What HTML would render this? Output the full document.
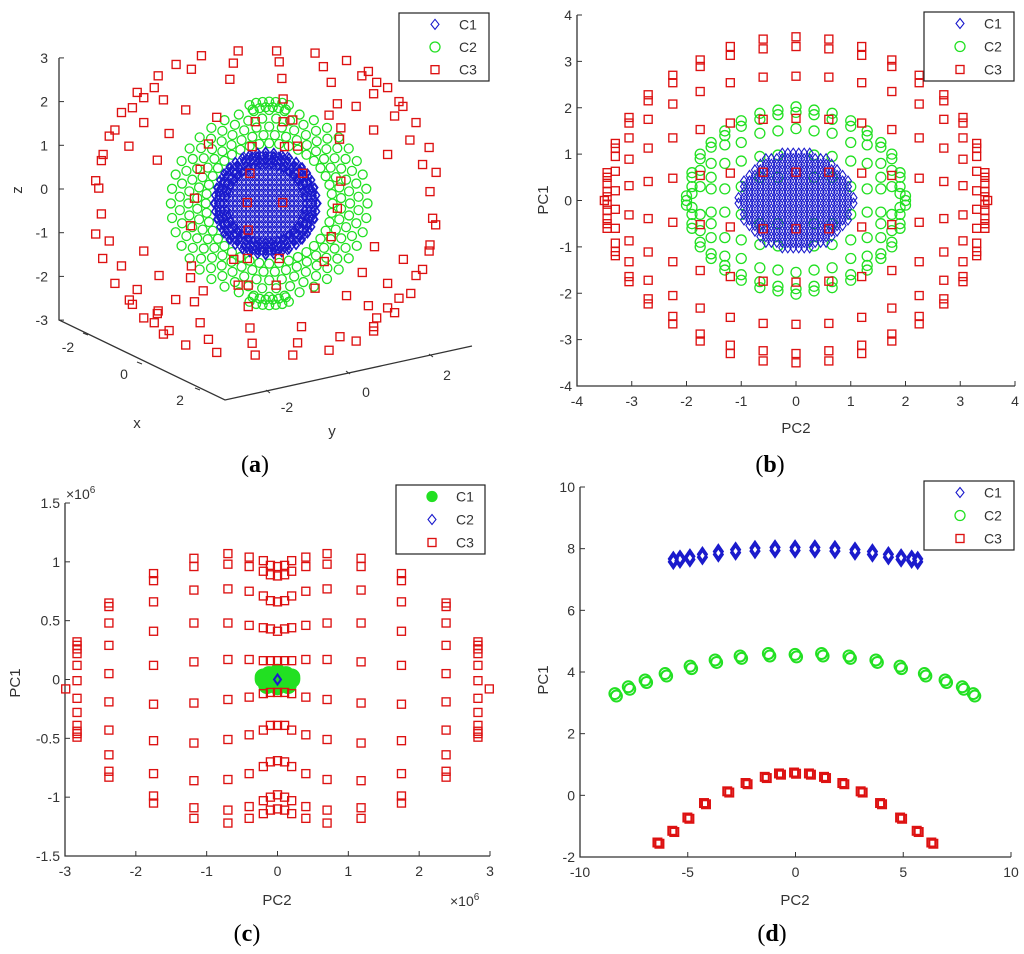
<!DOCTYPE html>
<html><head><meta charset="utf-8"><style>
html,body{margin:0;padding:0;background:#fff;}
svg{display:block;font-family:"Liberation Sans",sans-serif;}
.tk{font-size:14px;fill:#333;}
.at{font-size:15px;fill:#333;}
.pl{font-family:"Liberation Serif",serif;font-size:24px;fill:#000;}
</style></head><body>
<svg id="fig" width="1024" height="954" viewBox="0 0 1024 954" xmlns="http://www.w3.org/2000/svg">
<g id="pa"></g>
<g id="pb"></g>
<g id="pc"></g>
<g id="pd"></g>
<text class="pl" x="255" y="472" text-anchor="middle">(<tspan font-weight="bold">a</tspan>)</text>
<text class="pl" x="770" y="472" text-anchor="middle">(<tspan font-weight="bold">b</tspan>)</text>
<text class="pl" x="247" y="941" text-anchor="middle">(<tspan font-weight="bold">c</tspan>)</text>
<text class="pl" x="772" y="941" text-anchor="middle">(<tspan font-weight="bold">d</tspan>)</text>
</svg>
<script>
const NS='http://www.w3.org/2000/svg';
const BLUE='#1a1acc',GREEN='#22e022',RED='#dd1111';

// ---------- Panel A data (projected u = horizontal, v = z) ----------
const aRedU=[-1.50,-0.66,0.22,1.10,1.82,-2.08,-0.77,0.28,1.29,2.32,-2.49,-1.73,-0.85,0.34,1.47,2.17,2.51,2.76,-2.58,-2.97,-2.82,-2.37,0.37,2.44,1.61,2.04,3.02,3.11,-3.33,-3.08,-1.86,-1.15,-0.27,0.37,0.59,1.42,2.92,3.41,-3.48,-3.61,-2.82,-2.24,1.69,2.44,3.27,-3.16,-1.34,-0.34,0.40,0.70,1.66,3.71,-3.75,-3.79,-2.51,2.76,3.56,3.87,-1.53,-0.39,0.82,-3.92,-3.85,1.69,3.73,-1.66,-0.45,0.36,1.61,-3.79,-1.75,-0.43,3.79,3.86,-3.92,1.47,-3.61,-2.82,2.46,3.73,3.71,-3.76,-0.76,-0.45,0.28,1.31,3.12,-3.33,-1.73,2.18,3.56,3.41,-3.48,-2.47,-1.75,-0.66,-0.43,0.21,1.10,2.76,-2.97,-1.46,1.82,-3.15,-3.08,-2.09,-1.66,3.02,3.29,-0.43,2.32,2.76,2.92,-2.49,-2.51,-2.82,-2.58,-1.53,2.51,2.44,2.44,-0.39,0.79,-2.24,-2.37,-1.86,-1.34,-0.34,0.70,1.67,2.04,-1.15,-0.27,0.59,1.42];
const aRedV=[3.05,3.16,3.16,3.11,2.94,2.85,2.88,2.91,2.80,2.69,2.59,2.74,2.51,2.53,2.44,2.59,2.44,2.32,2.32,2.21,2.09,2.04,2.06,2.18,1.95,1.89,2.00,1.89,1.75,1.86,1.81,1.64,1.54,1.54,1.58,1.69,1.67,1.52,1.35,1.21,1.52,1.27,1.40,1.35,1.12,0.98,1.03,0.97,0.97,0.98,1.14,0.95,0.79,0.65,0.66,0.79,0.56,0.38,0.45,0.36,0.36,0.19,0.02,0.18,-0.06,-0.21,-0.31,-0.31,-0.44,-0.57,-0.84,-0.94,-0.67,-0.82,-1.03,-1.09,-1.19,-1.42,-1.32,-1.28,-1.42,-1.59,-1.61,-1.59,-1.59,-1.66,-1.61,-1.76,-1.76,-1.91,-1.84,-1.98,-2.16,-1.98,-2.03,-2.20,-2.20,-2.20,-2.27,-2.16,-2.30,-2.33,-2.44,-2.54,-2.64,-2.53,-2.58,-2.50,-2.39,-2.69,-2.67,-2.72,-2.83,-2.79,-2.85,-2.95,-3.06,-3.06,-2.95,-3.15,-3.25,-3.18,-3.15,-3.24,-3.32,-3.57,-3.44,-3.53,-3.52,-3.38,-3.48,-3.74,-3.80,-3.80,-3.69];
const aGreenRings=[1.45,1.65,1.85,2.05,2.25];
const aGreenAngles=[0,9,18,27,36,45,54,63,72,81,90,99,108,117,126,135,144,153,162,171,180,189,198,207,216,225,234,243,252,261,270,279,288,297,306,315,324,333,342,351];
const aGreenPoleU=[-0.45,-0.3,-0.15,0,0.15,0.3,0.45,-0.38,-0.22,-0.08,0.08,0.22,0.38];
const aGreenPoleDV=[0.05,0.1,0.12,0.13,0.12,0.1,0.05,-0.05,-0.02,0,0,-0.02,-0.05];
const aGreenCenter=[0.05,-0.33];
const aBlueCenter=[-0.03,-0.33];
const aBlueR=1.2;
const aBlueGridU=[-1.2,-1.1,-1.0,-0.9,-0.8,-0.7,-0.6,-0.5,-0.4,-0.3,-0.2,-0.1,0,0.1,0.2,0.3,0.4,0.5,0.6,0.7,0.8,0.9,1.0,1.1,1.2];
const aBlueGridV=[-1.2,-1.08,-0.96,-0.84,-0.72,-0.6,-0.48,-0.36,-0.24,-0.12,0,0.12,0.24,0.36,0.48,0.6,0.72,0.84,0.96,1.08,1.2];
const aBlueEdgeAngles=aGreenAngles;
const aZTicks=[3,2,1,0,-1,-2,-3];

// ---------- Panel B data ----------
const bRedColX=[0,0.6,1.2,1.75,2.25,2.7,3.05,3.3,3.45];
const bRedColY=[
 [3.53,3.32,2.68,1.77,0.61,-0.61,-1.76,-2.67,-3.30,-3.50],
 [3.48,3.27,2.66,1.75,0.61,-0.61,-1.74,-2.65,-3.24,-3.46],
 [3.32,3.13,2.54,1.67,0.59,-0.57,-1.64,-2.52,-3.12,-3.30],
 [3.03,2.89,2.35,1.53,0.54,-0.52,-1.51,-2.32,-2.88,-3.03],
 [2.70,2.54,2.08,1.35,0.48,-0.47,-1.32,-2.05,-2.50,-2.66],
 [2.28,2.15,1.75,1.13,0.41,-0.39,-1.11,-1.72,-2.12,-2.23],
 [1.79,1.67,1.35,0.89,0.32,-0.31,-0.87,-1.32,-1.64,-1.75],
 [1.23,1.13,0.95,0.63,0.21,-0.19,-0.60,-0.92,-1.10,-1.19],
 [0.60,0.50,0.37,0.19,0.08,-0.08,-0.21,-0.39,-0.50,-0.60]];
const bRedExtraX=[-3.5,3.5];
const bRedExtraY=[0,0];
const bGreenColX=[0,0.33,0.66,1.0,1.3,1.55,1.75,1.9,2.0];
const bGreenColY=[
 [2.02,1.9,1.55,-1.55,-1.9,-2.02],
 [1.95,1.85,1.5,0.98,0.5,-0.5,-0.98,-1.5,-1.85,-1.95],
 [1.88,1.75,1.45,0.95,0.5,-0.5,-0.95,-1.45,-1.75,-1.88],
 [1.72,1.6,1.25,0.85,0.3,-0.3,-0.85,-1.25,-1.6,-1.72],
 [1.5,1.4,1.2,0.8,0.25,-0.25,-0.8,-1.2,-1.4,-1.5],
 [1.25,1.15,0.8,0.5,0.25,-0.25,-0.5,-0.8,-1.15,-1.25],
 [1.0,0.9,0.65,0.3,-0.3,-0.65,-0.9,-1.0],
 [0.6,0.5,0.3,0.15,-0.15,-0.3,-0.5,-0.6],
 [0.1,0,-0.1]];
const bBlueGridX=[-1.05,-0.95,-0.85,-0.75,-0.65,-0.55,-0.45,-0.35,-0.25,-0.15,-0.05,0.05,0.15,0.25,0.35,0.45,0.55,0.65,0.75,0.85,0.95,1.05];
const bBlueGridY=[-1.02,-0.9,-0.78,-0.66,-0.54,-0.42,-0.3,-0.18,-0.06,0.06,0.18,0.3,0.42,0.54,0.66,0.78,0.9,1.02];
const bTicks=[-4,-3,-2,-1,0,1,2,3,4];

// ---------- Panel C data (x10^6) ----------
const cRedColX=[0,0.1,0.2,0.4,0.7,1.18,1.75,2.38,2.83];
const cRedColY=[
 [0.96,0.88,0.66,0.41,0.16,-0.11,-0.39,-0.69,-0.98,-1.10],
 [0.97,0.89,0.67,0.43,0.16,-0.11,-0.39,-0.70,-1.00,-1.11],
 [1.01,0.92,0.71,0.44,0.16,-0.12,-0.43,-0.74,-1.03,-1.14],
 [1.04,0.96,0.75,0.46,0.17,-0.15,-0.47,-0.80,-1.08,-1.18],
 [1.07,0.98,0.77,0.48,0.17,-0.17,-0.51,-0.85,-1.11,-1.22],
 [1.03,0.96,0.76,0.48,0.15,-0.20,-0.54,-0.86,-1.09,-1.18],
 [0.90,0.84,0.66,0.41,0.12,-0.21,-0.52,-0.80,-0.99,-1.05],
 [0.65,0.62,0.48,0.29,0.05,-0.19,-0.43,-0.64,-0.78,-0.83],
 [0.32,0.29,0.26,0.22,0.12,-0.01,-0.16,-0.28,-0.39,-0.44,-0.46,-0.49]];
const cRedExtraX=[-2.99,2.99];
const cRedExtraY=[-0.08,-0.08];
const cGreenX=[-0.2,-0.12,0,0.12,0.2,-0.15,0,0.15,-0.2,-0.1,0,0.1,0.2];
const cGreenY=[0,0.04,0.06,0.04,0,-0.05,-0.06,-0.05,0.02,-0.02,0,-0.02,0.02];
const cBlueX=[0];
const cBlueY=[0];
const cXTicks=[-3,-2,-1,0,1,2,3];
const cYTicks=[1.5,1,0.5,0,-0.5,-1,-1.5];
const cYTickLabels=['1.5','1','0.5','0','-0.5','-1','-1.5'];

// ---------- Panel D data ----------
const dBlueX=[-5.67,-5.36,-4.90,-4.32,-3.58,-2.78,-1.88,-0.95,-0.02,0.90,1.83,2.76,3.57,4.31,4.90,5.39,5.67];
const dBlueY=[7.62,7.66,7.70,7.77,7.86,7.92,7.97,7.99,7.99,7.99,7.97,7.92,7.86,7.77,7.70,7.66,7.62];
const dGreenX=[-8.38,-7.76,-6.98,-6.05,-4.89,-3.73,-2.57,-1.26,-0.02,1.21,2.48,3.73,4.85,5.98,6.94,7.74,8.25];
const dGreenY=[3.26,3.48,3.70,3.91,4.15,4.35,4.48,4.56,4.53,4.56,4.48,4.35,4.15,3.91,3.70,3.48,3.26];
const dRedX=[-6.36,-5.67,-4.97,-4.20,-3.12,-2.27,-1.38,-0.72,-0.02,0.67,1.37,2.22,3.07,3.97,4.90,5.67,6.35];
const dRedY=[-1.55,-1.17,-0.74,-0.27,0.11,0.38,0.58,0.69,0.72,0.69,0.58,0.38,0.11,-0.27,-0.74,-1.17,-1.55];
const dXTicks=[-10,-5,0,5,10];
const dYTicks=[-2,0,2,4,6,8,10];

// ---------- helpers ----------
function mk(tag,attrs,parent){const e=document.createElementNS(NS,tag);for(const k in attrs)e.setAttribute(k,attrs[k]);parent.appendChild(e);return e;}
function lin(d0,d1,r0,r1){return v=>r0+(v-d0)*(r1-r0)/(d1-d0);}
function sq(g,x,y,s,c,sw){const e=mk('rect',{x:x-s/2,y:y-s/2,width:s,height:s,fill:'none',stroke:c,'stroke-width':sw||1.35},g);

return e;}
function ci(g,x,y,r,c,fill,sw){const e=mk('circle',{cx:x,cy:y,r:r,fill:fill||'none',stroke:c,'stroke-width':sw||1.3},g);

return e;}
function di(g,x,y,w,h,c,sw){const e=mk('path',{d:`M${x} ${y-h/2}L${x+w/2} ${y}L${x} ${y+h/2}L${x-w/2} ${y}Z`,fill:'none',stroke:c,'stroke-width':sw||1.1},g);

return e;}
function txt(g,x,y,s,cls,anchor,name){const e=mk('text',{x:x,y:y,'class':cls,'text-anchor':anchor||'middle'},g);e.textContent=s;

return e;}
function legend(g,x0,y0,x1,y1,items){
 const b=mk('rect',{x:x0,y:y0,width:x1-x0,height:y1-y0,fill:'#fff',stroke:'#222','stroke-width':1.2},g);
 
 
 const step=(y1-y0)/3;
 items.forEach((it,i)=>{const cy=y0+step*(i+0.5);const mx=x0+36;
  if(it[0]==='d')di(g,mx,cy,8,10,BLUE);else if(it[0]==='c')ci(g,mx,cy,5,GREEN,it[2]?GREEN:null);else sq(g,mx,cy,8,RED);
  txt(g,x0+60,cy+5,it[1],'tk','start','legend-entry-'+it[1].toLowerCase());});
}
function axes2d(g,X,Y,x0,x1,y0,y1,xt,yt,ylab){
 const a=mk('path',{d:`M${x0} ${y0}L${x0} ${y1}L${x1} ${y1}`,fill:'none',stroke:'#333','stroke-width':1.3},g);
 
 
 xt.forEach(v=>{mk('line',{x1:X(v),x2:X(v),y1:y1,y2:y1-5,stroke:'#333'},g);txt(g,X(v),y1+20,String(v),'tk','middle','x-tick-label');});
 yt.forEach((v,i)=>{mk('line',{x1:x0,x2:x0+5,y1:Y(v),y2:Y(v),stroke:'#333'},g);txt(g,x0-5,Y(v)+5,ylab?ylab[i]:String(v),'tk','end','y-tick-label');});
}

// ---------- Panel A ----------
(function(){
 const g=document.getElementById('pa');
 const U=lin(0,1,267,310.7), V=lin(0,1,189,145.3);
 const ax=mk('path',{d:'M59 58L59 320L225 400L472 346',fill:'none',stroke:'#333','stroke-width':1.3},g);
 
 
 aZTicks.forEach(z=>{const y=V(z);mk('line',{x1:59,x2:64,y1:y,y2:y,stroke:'#333'},g);txt(g,48,y+5,String(z),'tk','end','z-tick-label');});
 [[-2,83,333,68,352],[0,137,362,124,379],[2,195,388,180,405]].forEach(t=>{mk('line',{x1:t[1],x2:t[1]+5,y1:t[2],y2:t[2]+2,stroke:'#333'},g);txt(g,t[3],t[4],String(t[0]),'tk','middle','x-tick-label');});
 [[-2,270,393,287,412],[0,350,374,366,397],[2,433,357,447,380]].forEach(t=>{mk('line',{x1:t[1],x2:t[1]-4,y1:t[2],y2:t[2]-3,stroke:'#333'},g);txt(g,t[3],t[4],String(t[0]),'tk','middle','y-tick-label');});
 txt(g,137,428,'x','at','middle','x-axis-title');
 txt(g,332,436,'y','at','middle','y-axis-title');
 const zt=txt(g,22,190,'z','at','middle','z-axis-title');zt.setAttribute('transform','rotate(-90 22 190)');
 aGreenRings.forEach((r,ri)=>aGreenAngles.forEach((a,ai)=>{const t=(a+ri*4.5)*Math.PI/180;
   ci(g,U(aGreenCenter[0]+r*Math.cos(t)),V(aGreenCenter[1]+r*0.95*Math.sin(t)),4.5,GREEN);}));
 aGreenPoleU.forEach((u,i)=>{ci(g,U(aGreenCenter[0]+u),V(aGreenCenter[1]+2.2+aGreenPoleDV[i]),4.5,GREEN);ci(g,U(aGreenCenter[0]+u),V(aGreenCenter[1]-2.2-aGreenPoleDV[i]),4.5,GREEN);});
 aBlueGridU.forEach(u=>aBlueGridV.forEach(v=>{if(u*u+v*v<=aBlueR*aBlueR){di(g,U(aBlueCenter[0]+u),V(aBlueCenter[1]+v),6,8,BLUE,1.1);}}));
 [1.18,1.1,1.0,0.9].forEach(r=>aBlueEdgeAngles.forEach(a=>{const t=a*Math.PI/180;di(g,U(aBlueCenter[0]+r*Math.cos(t)),V(aBlueCenter[1]+r*Math.sin(t)),6,8,BLUE,1.5);}));
 aRedU.forEach((u,i)=>sq(g,U(u),V(aRedV[i]),8,RED));
 legend(g,399,13,489,81,[['d','C1'],['c','C2'],['s','C3']]);
})();

// ---------- Panel B ----------
(function(){
 const g=document.getElementById('pb');
 const X=lin(-4,4,577,1015), Y=lin(-4,4,386,15);
 axes2d(g,X,Y,577,1015,15,386,bTicks,bTicks);
 txt(g,796,433,'PC2','at','middle','x-axis-title');
 const t=txt(g,548,200,'PC1','at','middle','y-axis-title');t.setAttribute('transform','rotate(-90 548 200)');
 bGreenColX.forEach((x,i)=>bGreenColY[i].forEach(y=>{ci(g,X(x),Y(y),5,GREEN);if(x!==0)ci(g,X(-x),Y(y),5,GREEN);}));
 bBlueGridX.forEach(x=>bBlueGridY.forEach(y=>{if(x*x+y*y<=1.12)di(g,X(x),Y(y),7,10,BLUE,1.1);}));
 bRedColX.forEach((x,i)=>bRedColY[i].forEach(y=>{sq(g,X(x),Y(y),8,RED);if(x!==0)sq(g,X(-x),Y(y),8,RED);}));
 bRedExtraX.forEach((x,i)=>sq(g,X(x),Y(bRedExtraY[i]),8,RED));
 legend(g,924,12,1014,81,[['d','C1'],['c','C2'],['s','C3']]);
})();

// ---------- Panel C ----------
(function(){
 const g=document.getElementById('pc');
 const X=lin(-3,3,65,490), Y=lin(-1.5,1.5,856,503);
 axes2d(g,X,Y,65,490,503,856,cXTicks,cYTicks,cYTickLabels);
 txt(g,277,905,'PC2','at','middle','x-axis-title');
 const t=txt(g,20,683,'PC1','at','middle','y-axis-title');t.setAttribute('transform','rotate(-90 20 683)');
 const m1=txt(g,66,499,'\u00d710','tk','start','y-exponent');const s1=mk('tspan',{dy:-6,'font-size':10},m1);s1.textContent='6';
 const m2=txt(g,450,906,'\u00d710','tk','start','x-exponent');const s2=mk('tspan',{dy:-6,'font-size':10},m2);s2.textContent='6';
 cGreenX.forEach((x,i)=>ci(g,X(x),Y(cGreenY[i]),8,GREEN,GREEN));
 cRedColX.forEach((x,i)=>cRedColY[i].forEach(y=>{sq(g,X(x),Y(y),8,RED);if(x!==0)sq(g,X(-x),Y(y),8,RED);}));
 cRedExtraX.forEach((x,i)=>sq(g,X(x),Y(cRedExtraY[i]),8,RED));
 cBlueX.forEach((x,i)=>di(g,X(x),Y(cBlueY[i]),7,10,BLUE,2));
 legend(g,396,485,485,554,[['c','C1',true],['d','C2'],['s','C3']]);
})();

// ---------- Panel D ----------
(function(){
 const g=document.getElementById('pd');
 const X=lin(-10,10,580,1011), Y=lin(-2,10,857,487);
 axes2d(g,X,Y,580,1011,487,857,dXTicks,dYTicks);
 txt(g,795,905,'PC2','at','middle','x-axis-title');
 const t=txt(g,548,680,'PC1','at','middle','y-axis-title');t.setAttribute('transform','rotate(-90 548 680)');
 dBlueX.forEach((x,i)=>{di(g,X(x),Y(dBlueY[i]+0.05),9,13,BLUE,2);di(g,X(x),Y(dBlueY[i]-0.05),9,13,BLUE,2);});
 dGreenX.forEach((x,i)=>{ci(g,X(x),Y(dGreenY[i]+0.04),5.5,GREEN,null,2);ci(g,X(x)+1.5,Y(dGreenY[i]-0.04),5.5,GREEN,null,2);});
 dRedX.forEach((x,i)=>{sq(g,X(x)-1,Y(dRedY[i]+0.02),8,RED,2);sq(g,X(x)+1,Y(dRedY[i]-0.02),8,RED,2);});
 legend(g,924,481,1014,550,[['d','C1'],['c','C2'],['s','C3']]);
})();
</script>
</body></html>
